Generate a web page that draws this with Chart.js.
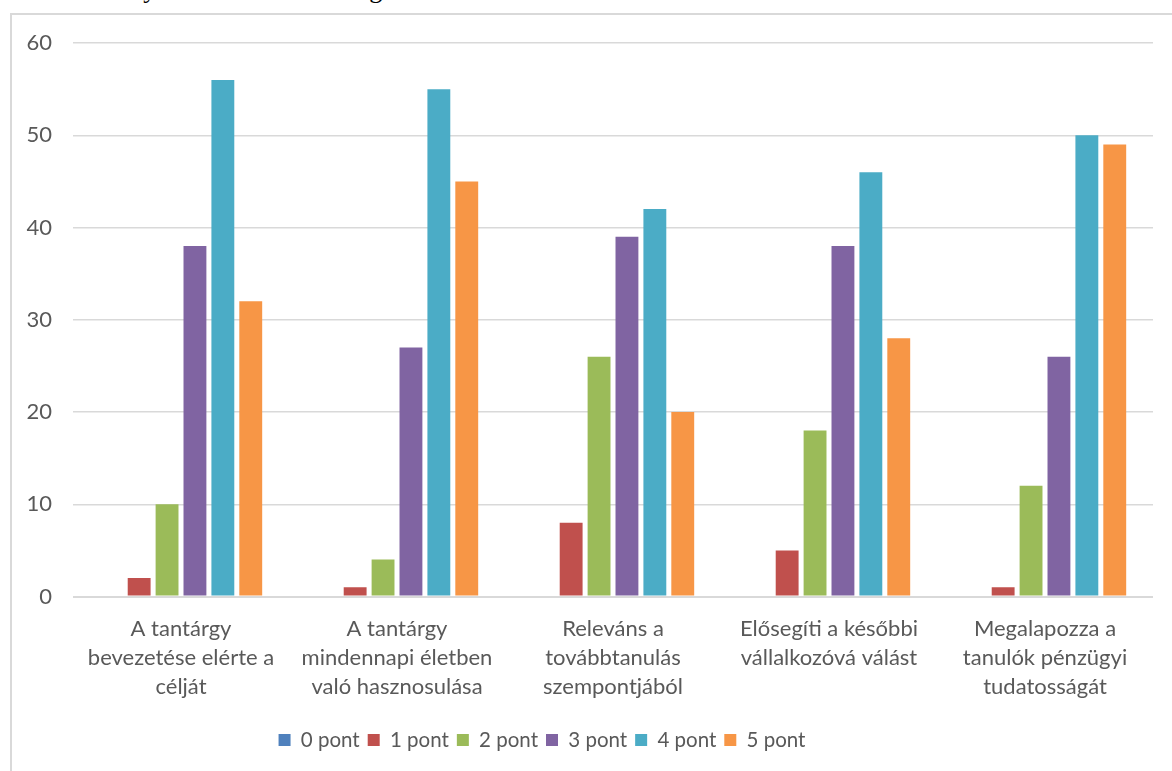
<!DOCTYPE html>
<html>
<head>
<meta charset="utf-8">
<title>Értékelés</title>
<script src="https://cdn.jsdelivr.net/npm/chart.js@4.4.1/dist/chart.umd.min.js"></script>
<style>
  html, body { margin: 0; padding: 0; background: #fff; overflow: hidden; }
  #wrap { position: relative; width: 1172px; height: 771px; overflow: hidden; }
  #intro { position: absolute; left: 17px; top: -23px; font-family: "Liberation Serif", "Times New Roman", serif;
           font-size: 26px; line-height: 26px; white-space: nowrap; color: #000; }
  #frame { position: absolute; left: 10px; top: 13px; right: -20px; bottom: -20px;
           border-left: 2px solid #d9d9d9; border-top: 2px solid #d9d9d9; background: #fff; }
  canvas { position: absolute; left: 0; top: 0; }
</style>
</head>
<body>
<div id="wrap">
  <div id="intro">Az eredményeket a következő diagram szemlélteti.</div>
  <div id="frame"></div>
  <canvas id="chart" width="1172" height="771"></canvas>
</div>
<script>
// Kérdések (kategóriák)
const categories = [
  ["A tantárgy", "bevezetése elérte a", "célját"],
  ["A tantárgy", "mindennapi életben", "való hasznosulása"],
  ["Releváns a", "továbbtanulás", "szempontjából"],
  ["Elősegíti a későbbi", "vállalkozóvá válást"],
  ["Megalapozza a", "tanulók pénzügyi", "tudatosságát"]
];

// Pontszámonkénti válaszok száma
const pont0 = [0, 0, 0, 0, 0];
const pont1 = [2, 1, 8, 5, 1];
const pont2 = [10, 4, 26, 18, 12];
const pont3 = [38, 27, 39, 38, 26];
const pont4 = [56, 55, 42, 46, 50];
const pont5 = [32, 45, 20, 28, 49];

const seriesNames = ["0 pont", "1 pont", "2 pont", "3 pont", "4 pont", "5 pont"];
const seriesValues = [pont0, pont1, pont2, pont3, pont4, pont5];
const seriesColors = ["#4F81BD", "#C0504D", "#9BBB59", "#8064A2", "#4BACC6", "#F79646"];

const yMin = 0, yMax = 60, yStep = 10;

const FONT = "Lato, 'Open Sans', sans-serif";
const TEXT = "#595959";
const LEGEND_SIZE = 20.5;
const LEGEND_PAD = 8;

// A jelmagyarázat helyzetének beállítása (vízszintes közép, sor közepe)
const legendShift = {
  id: "legendShift",
  afterLayout(chart) {
    const lg = chart.legend;
    if (!lg) return;
    const h = lg.bottom - lg.top;
    lg.left = 10;
    lg.right = 1074;
    lg.top = 740 - LEGEND_PAD - LEGEND_SIZE / 2;
    lg.bottom = lg.top + h;
  }
};

new Chart(document.getElementById("chart"), {
  type: "bar",
  data: {
    labels: categories,
    datasets: seriesNames.map((name, i) => ({
      label: name,
      data: seriesValues[i],
      backgroundColor: seriesColors[i],
      borderWidth: 0,
      categoryPercentage: 0.775,
      barPercentage: 0.82
    }))
  },
  options: {
    responsive: false,
    animation: false,
    devicePixelRatio: 1,
    layout: { padding: { top: 43, right: 19, bottom: 10, left: 0 } },
    plugins: {
      tooltip: { enabled: false },
      legend: {
        position: "bottom",
        labels: {
          boxWidth: 12,
          boxHeight: 12,
          padding: LEGEND_PAD,
          color: TEXT,
          font: { family: FONT, size: LEGEND_SIZE }
        }
      }
    },
    scales: {
      x: {
        grid: { display: false },
        border: { display: false },
        ticks: {
          color: TEXT,
          padding: 10,
          maxRotation: 0,
          autoSkip: false,
          font: { family: FONT, size: 22, lineHeight: 1.32 }
        },
        afterFit(scale) { scale.height = 126; }
      },
      y: {
        min: yMin,
        max: yMax,
        grid: {
          color: "#d9d9d9",
          lineWidth: (ctx) => (ctx.tick && ctx.tick.value === 0 ? 2 : 1.5),
          drawTicks: false
        },
        border: { display: false },
        ticks: {
          stepSize: yStep,
          color: TEXT,
          padding: 21,
          font: { family: FONT, size: 22 }
        },
        afterFit(scale) { scale.width = 73; }
      }
    }
  },
  plugins: [legendShift]
});
</script>
</body>
</html>
